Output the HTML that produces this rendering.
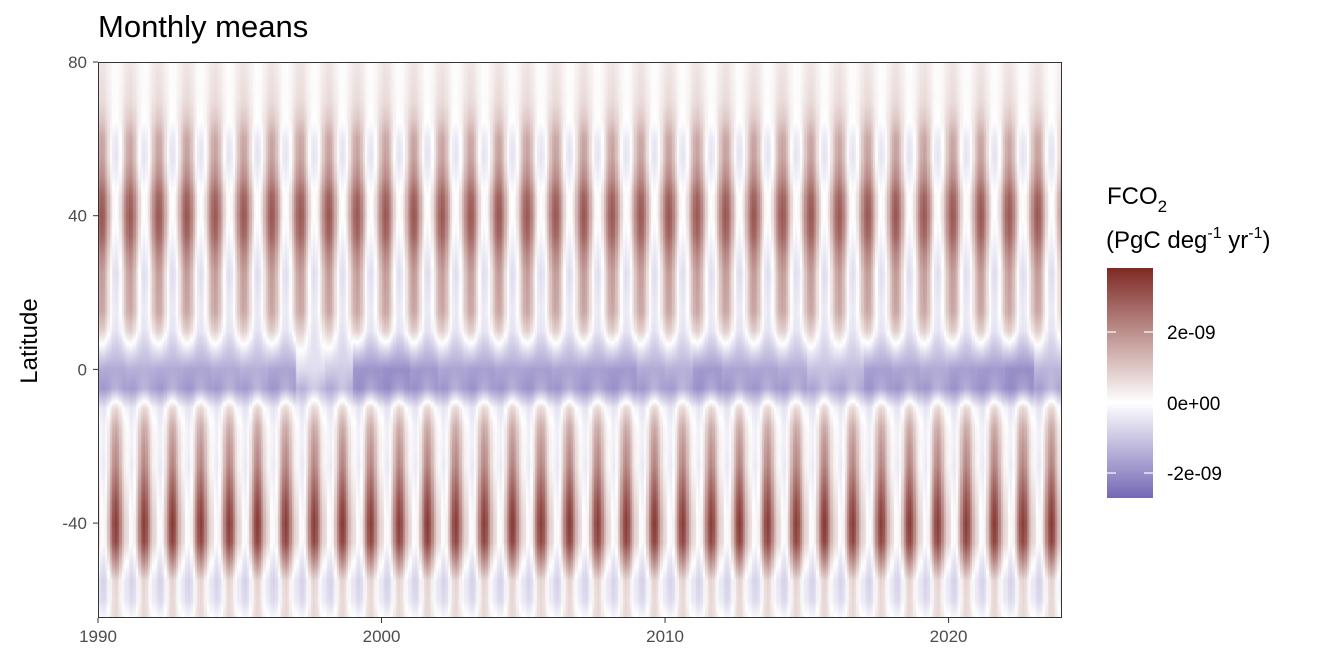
<!DOCTYPE html>
<html><head><meta charset="utf-8"><style>
body{margin:0;background:#fff;width:1344px;height:672px;overflow:hidden;font-family:"Liberation Sans",sans-serif;}
.t{position:absolute;white-space:nowrap}
</style></head><body>
<div class="t" style="left:98px;top:9px;font-size:31px;color:#000">Monthly means</div>
<div class="t" style="left:30px;top:341px;font-size:24px;transform:translate(-50%,-50%) rotate(-90deg)">Latitude</div>
<canvas id="cv" width="964" height="556" style="position:absolute;left:98px;top:62px"></canvas>
<svg width="1344" height="672" style="position:absolute;left:0;top:0" id="ax">
<rect x="98.5" y="62.5" width="963" height="555" fill="none" stroke="#333" stroke-width="1"/>
<defs><linearGradient id="lg" x1="0" y1="0" x2="0" y2="1">
<stop offset="0" stop-color="#7f2a24"/><stop offset="0.585" stop-color="#ffffff"/><stop offset="1" stop-color="#7468b5"/></linearGradient></defs>
<rect x="1107" y="268" width="46" height="230" fill="url(#lg)"/>
<g stroke="#fff" stroke-width="1.2">
<line x1="1107" x2="1116" y1="332" y2="332"/><line x1="1144" x2="1153" y1="332" y2="332"/>
<line x1="1107" x2="1116" y1="473" y2="473"/><line x1="1144" x2="1153" y1="473" y2="473"/>
</g>
<g font-size="19" fill="#000" font-family="Liberation Sans">
<text x="1167" y="339">2e-09</text>
<text x="1167" y="410">0e+00</text>
<text x="1167" y="480">-2e-09</text>
</g>
<text font-size="24" font-family="Liberation Sans" x="1107" y="204">FCO<tspan font-size="17" dy="8">2</tspan></text>
<text font-size="24" font-family="Liberation Sans" x="1106" y="248">(PgC deg<tspan font-size="16" dy="-10">-1</tspan><tspan dy="10"> yr</tspan><tspan font-size="16" dy="-10">-1</tspan><tspan dy="10">)</tspan></text>
<g id="ticks" font-size="17" fill="#4d4d4d" font-family="Liberation Sans"></g>
</svg>
<script>
const lats=[-65,-60,-55,-50,-45,-40,-35,-30,-25,-20,-15,-10,-5,0,5,10,15,20,25,30,35,40,45,50,55,60,65,70,75,80];
const meanProf=[0.3,0.0,0.0,0.8,1.6,1.7,1.5,1.2,0.9,0.8,0.6,0.1,-1.6,-1.5,-0.7,0.2,0.6,0.6,0.6,0.9,1.3,1.5,1.4,0.9,0.6,0.6,0.5,0.35,0.3,0.25];
const ampProf=[0.4,0.7,0.8,1.3,1.7,1.8,1.7,1.5,1.3,1.1,0.9,0.6,0.25,0.2,0.3,0.7,1.0,1.1,1.2,1.3,1.5,1.5,1.4,1.2,1.1,1.0,0.5,0.3,0.25,0.2];
const cycleNH=[0.8,1.0,0.9,0.5,0.0,-0.5,-0.9,-1.0,-0.9,-0.6,-0.1,0.4];
const cycleSH=[-0.6,-0.9,-1.0,-0.8,-0.3,0.3,0.8,1.0,0.8,0.3,-0.2,-0.5];
const years=[];for(let y=1990;y<=2023;y++)years.push(y);
const eqAnom=[0,0.1,0,-0.1,0,0.1,-0.1,0.9,0.6,-0.4,-0.5,-0.3,-0.1,-0.2,-0.1,-0.2,-0.1,-0.2,-0.3,0,0.1,-0.3,-0.1,-0.1,0,0.4,0.3,-0.2,-0.1,0,-0.2,-0.3,-0.5,0.2];
const xTicks=[1990,2000,2010,2020];
const yTicks=[80,40,0,-40];
const x0=98,x1=1062,t0=1990,t1=2024,y0=62,y1=618,la0=80,la1=-64.7;
const xs=t=>x0+(t-t0)/(t1-t0)*(x1-x0);
const ys=l=>y0+(la0-l)/(la0-la1)*(y1-y0);
const g=document.getElementById('ticks');
const ns='http://www.w3.org/2000/svg';
xTicks.forEach(v=>{const l=document.createElementNS(ns,'line');l.setAttribute('x1',xs(v));l.setAttribute('x2',xs(v));l.setAttribute('y1',618);l.setAttribute('y2',623);l.setAttribute('stroke','#333');


g.appendChild(l);const t=document.createElementNS(ns,'text');t.setAttribute('x',xs(v));t.setAttribute('y',642);t.setAttribute('text-anchor','middle');t.textContent=v;


g.appendChild(t);});
yTicks.forEach(v=>{const l=document.createElementNS(ns,'line');l.setAttribute('x1',93);l.setAttribute('x2',98);l.setAttribute('y1',ys(v));l.setAttribute('y2',ys(v));l.setAttribute('stroke','#333');


g.appendChild(l);const t=document.createElementNS(ns,'text');t.setAttribute('x',87);t.setAttribute('y',ys(v)+6);t.setAttribute('text-anchor','end');t.textContent=v;


g.appendChild(t);});
function interp(arr,lat){let i=Math.min(Math.max(Math.floor((lat-lats[0])/5),0),lats.length-2);const f=(lat-lats[i])/5;return arr[i]*(1-f)+arr[i+1]*f;}
const cv=document.getElementById('cv'),ctx=cv.getContext('2d');
const W=cv.width,H=cv.height,img=ctx.createImageData(W,H);
for(let py=0;py<H;py++){const lat=la0-(py+0.5)/H*(la0-la1);
 const m=interp(meanProf,lat),a=interp(ampProf,lat);
 const wN=Math.min(Math.max((lat+5)/10,0),1);
 const eqW=Math.max(0,1-Math.abs(lat)/10);
 for(let px=0;px<W;px++){const t=t0+(px+0.5)/W*(t1-t0);const mi=Math.floor((t-t0)*12);const mo=mi%12,yi=Math.floor(mi/12);
  const c=cycleNH[mo]*wN+cycleSH[mo]*(1-wN);
  let v=m+a*c+eqW*eqAnom[Math.min(yi,eqAnom.length-1)];
  let r,gg,b;
  if(v>=0){const k=Math.min(v/3.83,1);r=255+(127-255)*k;gg=255+(42-255)*k;b=255+(36-255)*k;}
  else{const k=Math.min(-v/2.71,1);r=255+(116-255)*k;gg=255+(104-255)*k;b=255+(181-255)*k;}
  const o=(py*W+px)*4;img.data[o]=r;img.data[o+1]=gg;img.data[o+2]=b;img.data[o+3]=255;}}
ctx.putImageData(img,0,0);
</script>
</body></html>
